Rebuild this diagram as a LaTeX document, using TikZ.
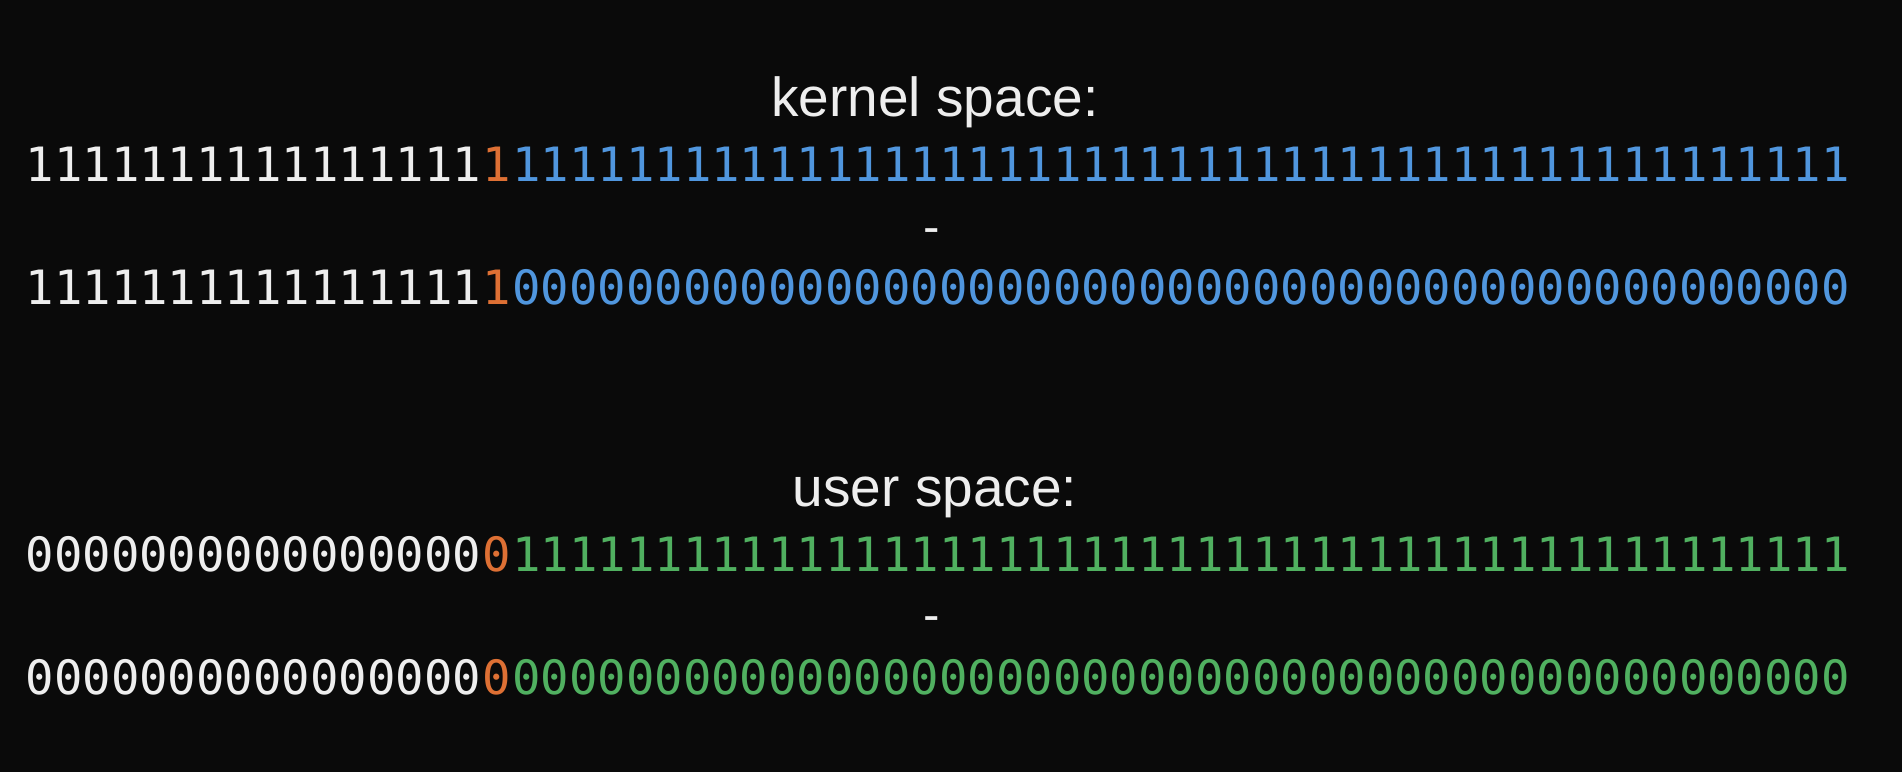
\documentclass[tikz,border=0pt]{standalone}
\usepackage{fontspec}
\setmainfont{Liberation Sans}
\setmonofont{DejaVu Sans Mono}
\usetikzlibrary{positioning}

\definecolor{bg}{RGB}{10,10,10}
\definecolor{bitwhite}{RGB}{238,238,238}
\definecolor{bitorange}{RGB}{222,112,52}
\definecolor{bitblue}{RGB}{80,150,222}
\definecolor{bitgreen}{RGB}{80,176,96}

\tikzset{
  bits/.style={inner sep=0pt, anchor=base west, font=\fontsize{13.45}{16}\selectfont\ttfamily},
  title/.style={inner sep=0pt, anchor=base, text=bitwhite, font=\fontsize{15.65}{18}\selectfont},
}

\begin{document}
\begin{tikzpicture}[scale=1]

\fill[bg] (0,0) rectangle (19.02,7.72);
\useasboundingbox (0,0) rectangle (19.02,7.72);

% kernel space
\node[title] (ktitle) at (9.35,6.55) {kernel space:};
\node[bits, text=bitwhite] (k1a) at (0.25,5.90) {1111111111111111};
\node[bits, text=bitorange] (k1b) at (k1a.base east) {1};
\node[bits, text=bitblue] (k1c) at (k1b.base east) {{1111111111}{1111111111}{1111111111}{1111111111}{1111111}};
\node[bits, anchor=base, text=bitwhite] (kminus) at (9.32,5.28) {-};
\node[bits, text=bitwhite] (k2a) at (0.25,4.67) {1111111111111111};
\node[bits, text=bitorange] (k2b) at (k2a.base east) {1};
\node[bits, text=bitblue] (k2c) at (k2b.base east) {{0000000000}{0000000000}{0000000000}{0000000000}{0000000}};

% user space
\node[title] (utitle) at (9.35,2.65) {user space:};
\node[bits, text=bitwhite] (u1a) at (0.25,2.00) {0000000000000000};
\node[bits, text=bitorange] (u1b) at (u1a.base east) {0};
\node[bits, text=bitgreen] (u1c) at (u1b.base east) {{1111111111}{1111111111}{1111111111}{1111111111}{1111111}};
\node[bits, anchor=base, text=bitwhite] (uminus) at (9.32,1.40) {-};
\node[bits, text=bitwhite] (u2a) at (0.25,0.77) {0000000000000000};
\node[bits, text=bitorange] (u2b) at (u2a.base east) {0};
\node[bits, text=bitgreen] (u2c) at (u2b.base east) {{0000000000}{0000000000}{0000000000}{0000000000}{0000000}};

\end{tikzpicture}
\end{document}
